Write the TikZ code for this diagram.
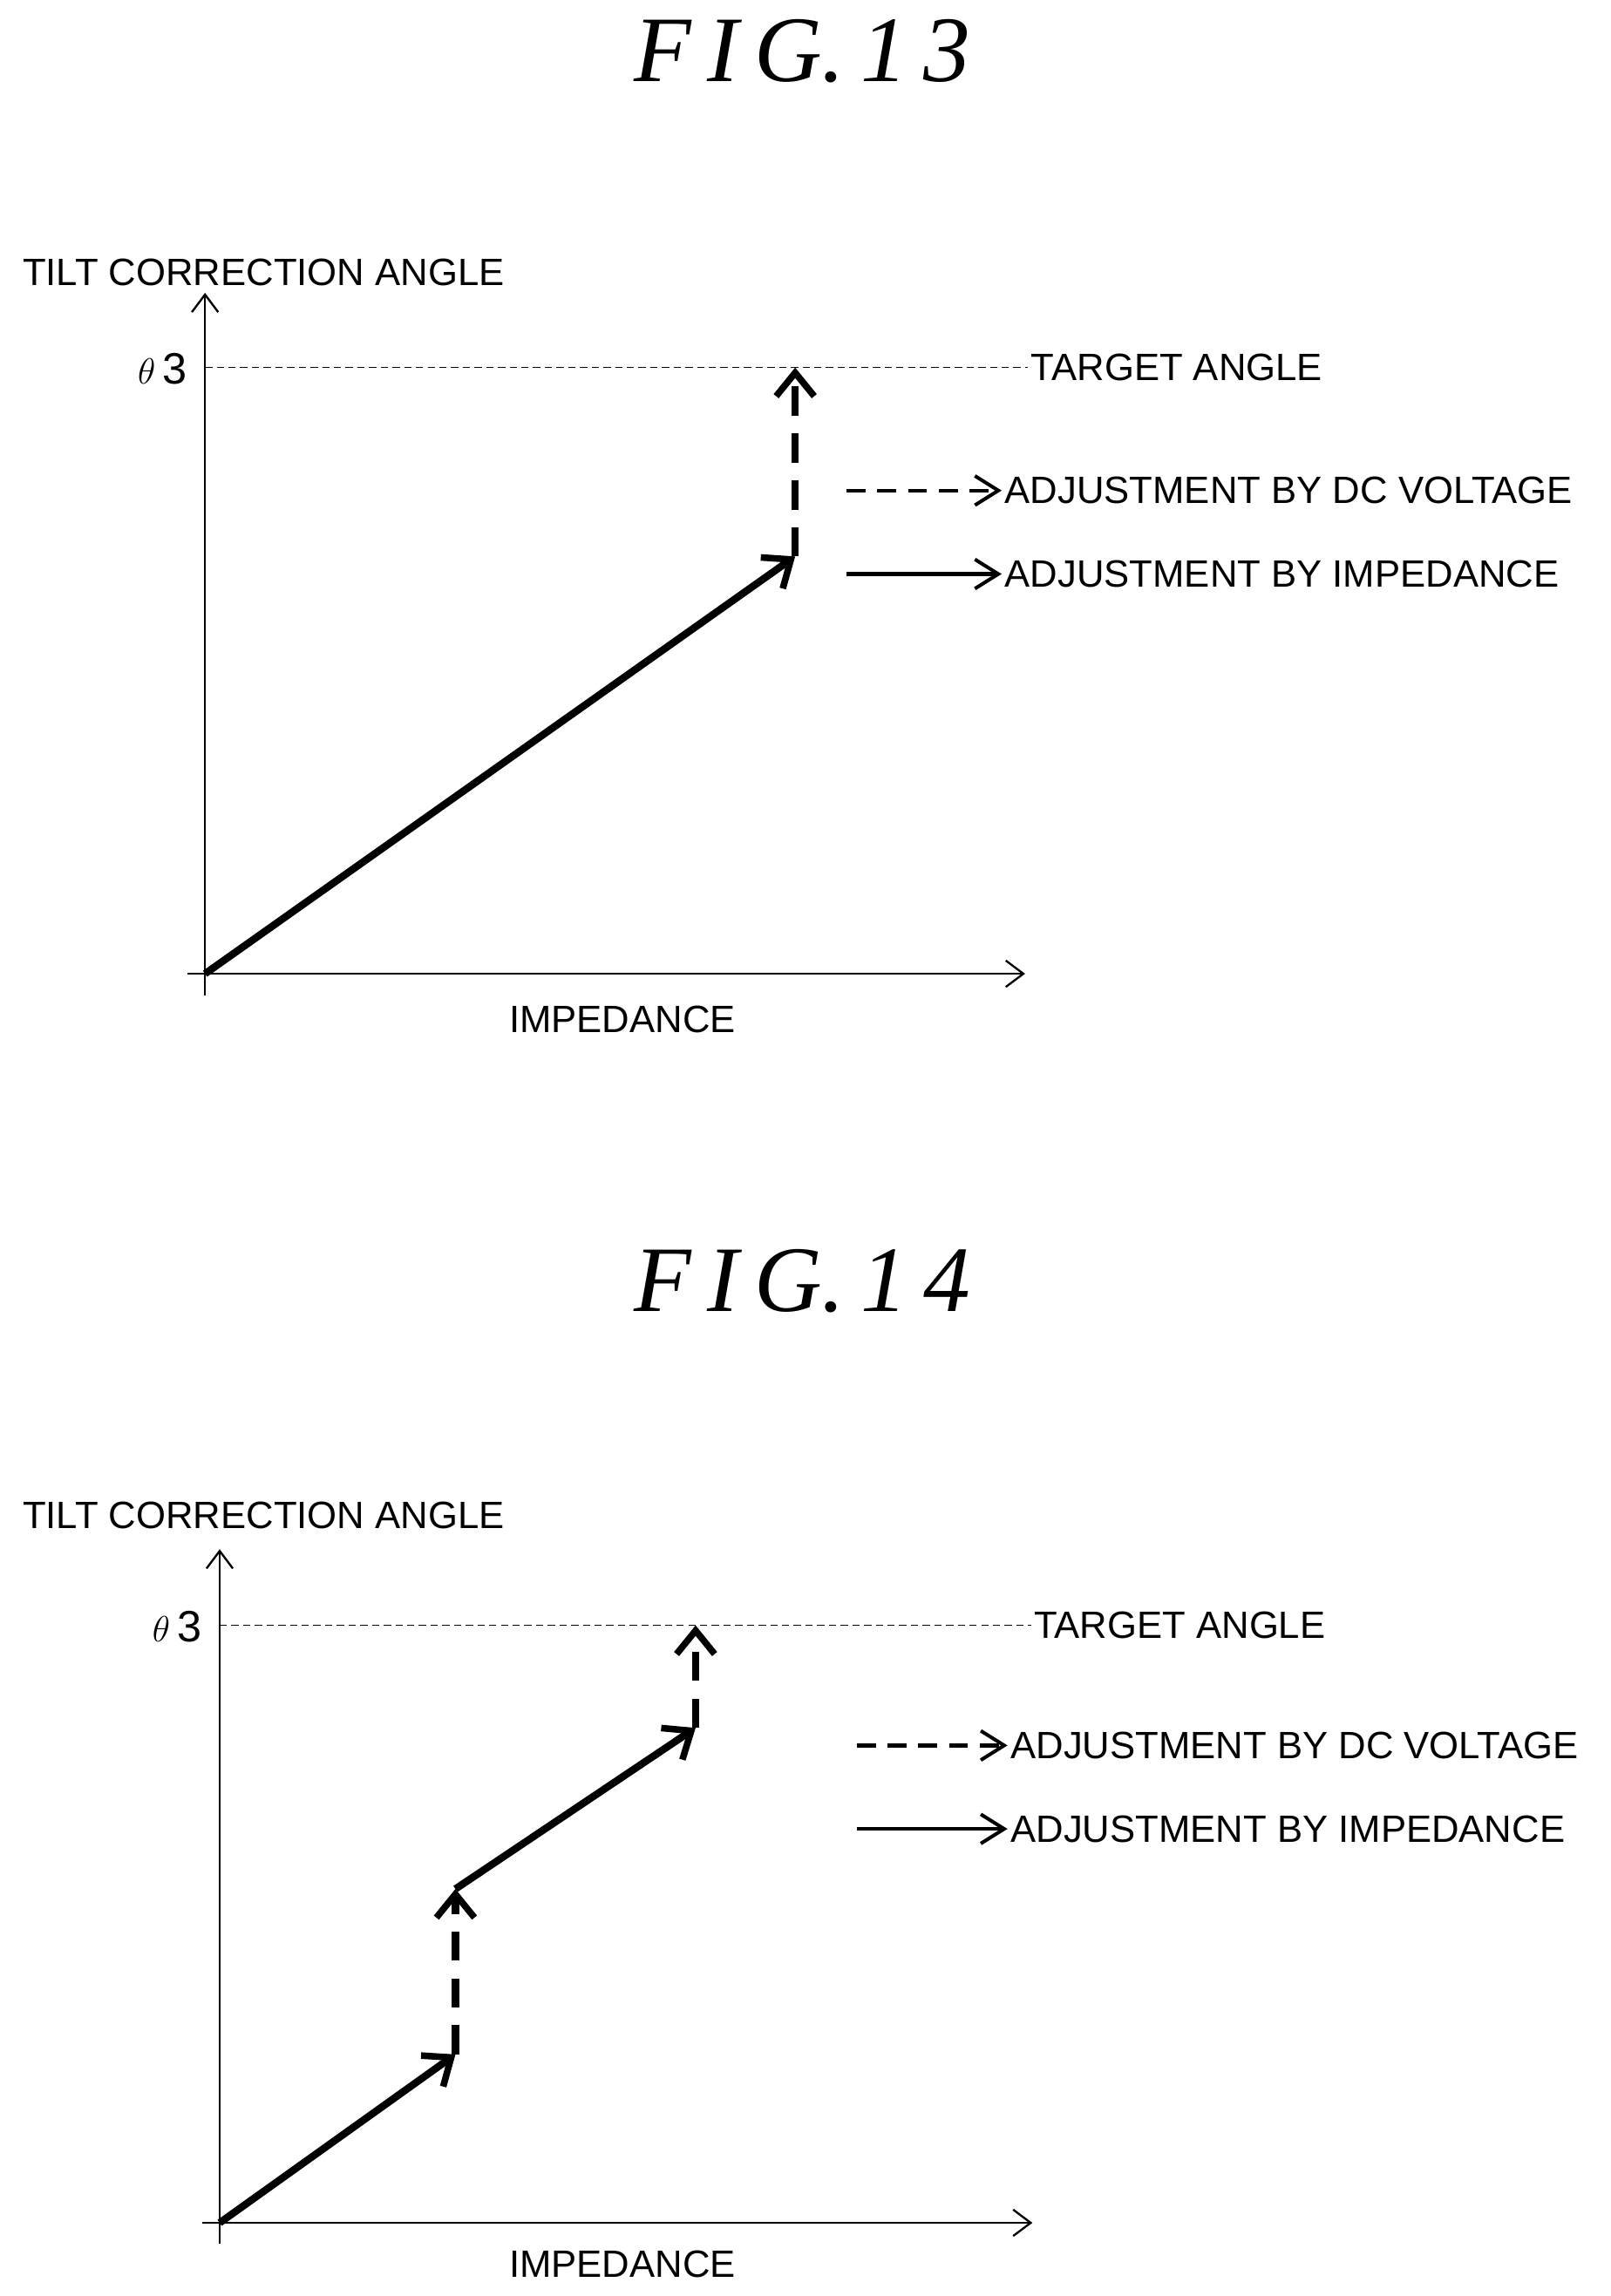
\documentclass[tikz,border=0pt]{standalone}
\usepackage{fontspec}
\setmainfont{Liberation Sans}
\newfontfamily\figfont{Liberation Serif}
\usetikzlibrary{arrows.meta, positioning}

\tikzset{
  axis/.style={line width=1.4pt, -{Straight Barb[length=12pt, width=18pt]}},
  impstep/.style={line width=5pt, -{Straight Barb[length=16pt, width=26pt, line width=4.5pt]}},
  dcstep/.style={impstep, dash pattern=on 20pt off 12pt},
  legimp/.style={line width=2.6pt, -{Straight Barb[length=16pt, width=20pt, line width=2.4pt]}},
  legdc/.style={legimp, dash pattern=on 13pt off 8pt},
  guide/.style={line width=1pt, dash pattern=on 5pt off 3pt},
  lbl/.style={font=\fontsize{26}{30}\selectfont, inner sep=2pt},
  figtitle/.style={font=\figfont\itshape\fontsize{64}{70}\selectfont}
}

\begin{document}
\begin{tikzpicture}[x=1pt, y=-1pt]
  \useasboundingbox (0,0) rectangle (1100,1568);

  % FIG. 13
  \node[figtitle] (t13) at (548,35) {F\,I\,G.\,1\,3};
  \coordinate (o13) at (140,665);
  \coordinate (ytop13) at (140,200);
  \coordinate (xend13) at (700,665);
  \draw[axis] (140,680) -- (ytop13);
  \draw[axis] (128,665) -- (xend13);
  \node[lbl] (ylab13) at (180,186) {TILT CORRECTION ANGLE};
  \node[lbl] (xlab13) at (425,696) {IMPEDANCE};
  \node[lbl, anchor=east, font=\fontsize{30}{34}\selectfont] (th13) at (130,252) {$\theta$\,3};
  \node[lbl, anchor=west] (tgt13) at (702,251) {TARGET ANGLE};
  \coordinate (g13) at (140,251);
  \draw[guide] (g13) -- (tgt13.west);
  \coordinate (p13) at (543,380);
  \coordinate (q13) at (543,251);
  \draw[impstep] (o13) -- (p13);
  \draw[dcstep] (p13) -- (q13);
  % legend
  \node[lbl, anchor=west] (dc13) at (684,335) {ADJUSTMENT BY DC VOLTAGE};
  \node[lbl, anchor=west] (imp13) at (684,392) {ADJUSTMENT BY IMPEDANCE};
  \coordinate (a13) at (578,335);
  \coordinate (b13) at (578,392);
  \draw[legdc] (a13) -- (dc13.west);
  \draw[legimp] (b13) -- (imp13.west);

  % FIG. 14
  \node[figtitle] (t14) at (548,875) {F\,I\,G.\,1\,4};
  \coordinate (o14) at (150,1518);
  \coordinate (ytop14) at (150,1058);
  \coordinate (xend14) at (705,1518);
  \draw[axis] (150,1532) -- (ytop14);
  \draw[axis] (138,1518) -- (xend14);
  \node[lbl] (ylab14) at (180,1035) {TILT CORRECTION ANGLE};
  \node[lbl] (xlab14) at (425,1546) {IMPEDANCE};
  \node[lbl, anchor=east, font=\fontsize{30}{34}\selectfont] (th14) at (140,1111) {$\theta$\,3};
  \node[lbl, anchor=west] (tgt14) at (704,1110) {TARGET ANGLE};
  \coordinate (g14) at (150,1110);
  \draw[guide] (g14) -- (tgt14.west);
  \coordinate (p14) at (311,1403);
  \coordinate (q14) at (311,1290);
  \coordinate (r14) at (475,1180);
  \coordinate (s14) at (475,1110);
  \draw[impstep] (o14) -- (p14);
  \draw[dcstep] (p14) -- (q14);
  \draw[impstep] (q14) -- (r14);
  \draw[dcstep] (r14) -- (s14);
  % legend
  \node[lbl, anchor=west] (dc14) at (688,1192) {ADJUSTMENT BY DC VOLTAGE};
  \node[lbl, anchor=west] (imp14) at (688,1249) {ADJUSTMENT BY IMPEDANCE};
  \coordinate (a14) at (585,1192);
  \coordinate (b14) at (585,1249);
  \draw[legdc] (a14) -- (dc14.west);
  \draw[legimp] (b14) -- (imp14.west);
\end{tikzpicture}
\end{document}
